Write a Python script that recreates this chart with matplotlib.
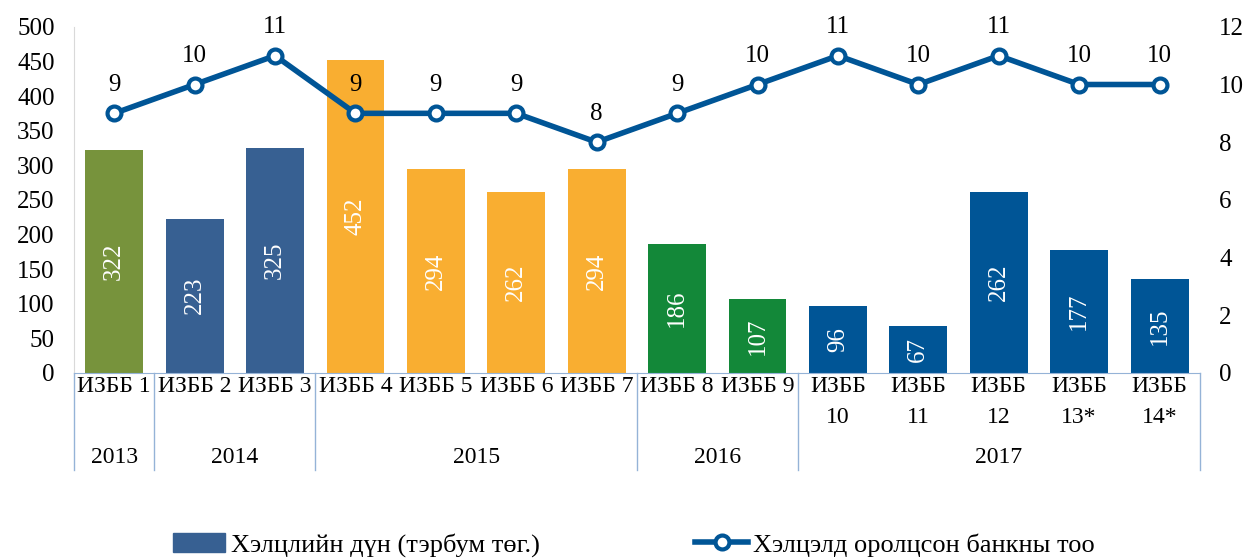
import matplotlib.pyplot as plt
import matplotlib.transforms as mtransforms
from matplotlib.patches import Patch
from matplotlib.lines import Line2D

plt.rcParams['font.family'] = ['Liberation Serif', 'DejaVu Serif']

labels = ['ИЗББ 1', 'ИЗББ 2', 'ИЗББ 3', 'ИЗББ 4', 'ИЗББ 5', 'ИЗББ 6', 'ИЗББ 7',
          'ИЗББ 8', 'ИЗББ 9', 'ИЗББ\n10', 'ИЗББ\n11', 'ИЗББ\n12', 'ИЗББ\n13*', 'ИЗББ\n14*']
amounts = [322, 223, 325, 452, 294, 262, 294, 186, 107, 96, 67, 262, 177, 135]
banks = [9, 10, 11, 9, 9, 9, 8, 9, 10, 11, 10, 11, 10, 10]
years = ['2013', '2014', '2015', '2016', '2017']
year_counts = [1, 2, 4, 2, 5]
year_colors = ['#77933C', '#376092', '#F9AE31', '#138839', '#005596']

line_color = '#005596'
sep_color = '#95B3D7'

bar_colors = []
for c, n in zip(year_colors, year_counts):
    bar_colors += [c] * n

fig = plt.figure(figsize=(12.55, 5.59), dpi=100)
ax = fig.add_axes([0.059, 0.333, 0.897, 0.619])
x = list(range(len(amounts)))
bars = ax.bar(x, amounts, width=0.72, color=bar_colors, zorder=2)
for b, v in zip(bars, amounts):
    ax.text(b.get_x() + b.get_width() / 2, v / 2, str(v), rotation=90,
            ha='center', va='center', color='white', fontsize=18, zorder=3)

ax.set_xlim(-0.5, len(amounts) - 0.5)
ax.set_ylim(0, 500)
ax.set_yticks(range(0, 501, 50))
ax.tick_params(axis='y', labelsize=18, length=0, pad=14)
ax.set_xticks([])
for s in ['top', 'right']:
    ax.spines[s].set_visible(False)
ax.spines['left'].set_color('#D9D9D9')
ax.spines['bottom'].set_color(sep_color)

ax2 = ax.twinx()
ax2.plot(x, banks, color=line_color, lw=4, marker='o', markersize=10,
         markerfacecolor='white', markeredgecolor=line_color, markeredgewidth=3, zorder=4)
for xi, v in zip(x, banks):
    ax2.text(xi, v + 0.6, str(v), ha='center', va='bottom', fontsize=18)
ax2.set_ylim(0, 12)
ax2.set_yticks(range(0, 13, 2))
ax2.tick_params(axis='y', labelsize=18, length=0, pad=14)
for s in ax2.spines.values():
    s.set_visible(False)

# multi-level category axis
trans = mtransforms.blended_transform_factory(ax.transData, ax.transAxes)
for xi, lab in zip(x, labels):
    ax.text(xi, -0.01, lab, transform=trans, ha='center', va='top',
            fontsize=17, linespacing=1.6)
bounds = [-0.5]
for n in year_counts:
    bounds.append(bounds[-1] + n)
for b in bounds:
    ax.plot([b, b], [0, -0.28], transform=trans, color=sep_color, lw=1, clip_on=False)
for i, yr in enumerate(years):
    ax.text((bounds[i] + bounds[i + 1]) / 2, -0.245, yr, transform=trans,
            ha='center', va='center', fontsize=17)

handles = [Patch(color='#376092'),
           Line2D([], [], color=line_color, lw=4, marker='o', markersize=10,
                  markerfacecolor='white', markeredgecolor=line_color, markeredgewidth=3)]
fig.legend(handles, ['Хэлцлийн дүн (тэрбум төг.)', 'Хэлцэлд оролцсон банкны тоо'],
           loc='center', bbox_to_anchor=(0.505, 0.025), ncol=2, frameon=False,
           fontsize=19, columnspacing=5.9, handlelength=2.0, handletextpad=0.2,
           borderaxespad=0)

fig.savefig('out.png', dpi=100)
